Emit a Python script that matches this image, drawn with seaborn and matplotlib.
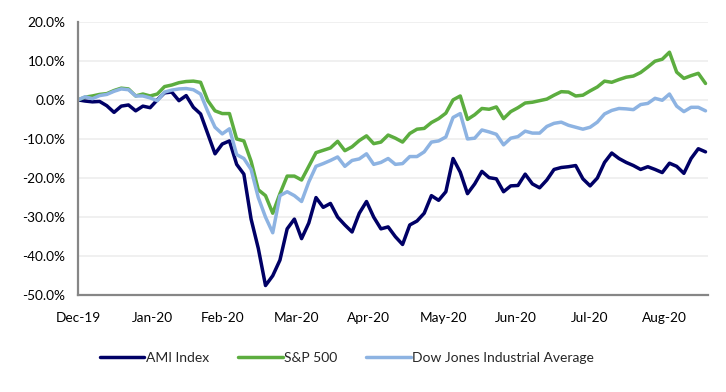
import matplotlib
matplotlib.use("Agg")
import matplotlib.pyplot as plt
import matplotlib.dates as mdates
from matplotlib.ticker import PercentFormatter
import numpy as np
import pandas as pd
import seaborn as sns

# Cumulative return since 31 Dec 2019 (%), every 3 days
dates = pd.date_range("2019-12-31", "2020-09-17", freq="3D")

ami = [0.0, -0.3, -0.5, -0.4, -1.5, -3.2, -1.6, -1.3, -2.8, -1.6,
       -2.0, 0.0, 1.8, 2.0, -0.2, 1.1, -1.9, -3.6, -8.7, -13.8,
       -11.3, -10.5, -16.5, -19.0, -30.5, -38.0, -47.5, -45.0, -41.0, -33.0,
       -30.5, -35.5, -31.5, -25.0, -27.5, -26.5, -30.0, -32.0, -33.8, -29.0,
       -26.0, -30.0, -33.0, -32.5, -35.0, -37.0, -32.0, -31.0, -29.0, -24.5,
       -25.7, -23.5, -15.0, -18.5, -24.0, -21.5, -18.3, -19.9, -20.2, -23.5,
       -22.0, -21.9, -19.0, -21.5, -22.5, -20.5, -17.8, -17.3, -17.1, -16.8,
       -20.2, -22.0, -20.0, -16.0, -13.6, -15.0, -16.0, -16.8, -17.8, -17.1,
       -17.8, -18.6, -16.2, -17.0, -18.8, -15.0, -12.5, -13.3]

sp500 = [0.0, 0.7, 1.0, 1.4, 1.6, 2.4, 3.0, 2.8, 1.0, 1.5,
         1.0, 1.5, 3.4, 3.8, 4.4, 4.7, 4.8, 4.5, -0.2, -2.8,
         -3.5, -3.5, -10.0, -10.5, -15.7, -23.0, -24.5, -29.0, -24.0, -19.5,
         -19.5, -20.5, -17.0, -13.5, -12.9, -12.3, -10.6, -13.0, -12.0, -10.4,
         -9.2, -11.2, -10.8, -9.0, -9.8, -10.8, -8.6, -7.5, -7.3, -5.8,
         -4.8, -3.4, 0.0, 1.0, -5.0, -3.8, -2.2, -2.4, -1.8, -4.8,
         -3.0, -2.0, -0.8, -0.6, -0.2, 0.2, 1.2, 2.1, 2.0, 1.0,
         1.2, 2.3, 3.3, 4.8, 4.5, 5.2, 5.8, 6.1, 7.0, 8.4,
         9.9, 10.4, 12.2, 7.1, 5.5, 6.2, 6.8, 4.2]

dow = [0.0, 0.8, 0.3, 1.1, 1.4, 2.2, 2.8, 2.6, 1.0, 1.0,
       0.5, -0.2, 2.0, 2.5, 2.8, 2.9, 2.6, 1.5, -3.0, -7.0,
       -8.7, -7.4, -14.0, -15.0, -17.8, -25.0, -30.0, -34.0, -24.5, -23.5,
       -24.5, -26.0, -21.0, -17.0, -16.3, -15.5, -14.6, -17.0, -15.5, -15.1,
       -13.8, -16.5, -16.0, -15.0, -16.5, -16.3, -14.5, -14.5, -13.3, -10.8,
       -10.5, -9.5, -4.5, -3.5, -10.0, -9.8, -7.7, -8.2, -8.8, -11.5,
       -9.8, -9.4, -8.0, -8.5, -8.5, -6.8, -6.0, -5.7, -6.5, -7.0,
       -7.5, -7.0, -5.7, -3.6, -2.7, -2.2, -2.3, -2.5, -1.2, -0.9,
       0.4, -0.1, 1.5, -1.6, -3.0, -1.9, -1.9, -2.8]

series_names = ["AMI Index", "S&P 500", "Dow Jones Industrial Average"]
colors = ["#000066", "#5CAD3F", "#8DB3E2"]
tick_dates = pd.to_datetime(["2019-12-31", "2020-01-31", "2020-02-29", "2020-03-31",
                             "2020-04-30", "2020-05-31", "2020-06-30", "2020-07-31",
                             "2020-08-31"])

df = pd.DataFrame({"Date": dates, series_names[0]: ami,
                   series_names[1]: sp500, series_names[2]: dow})
df_long = df.melt(id_vars="Date", var_name="Series", value_name="Return")

sns.set_style("white")
plt.rcParams["font.family"] = ["Lato", "DejaVu Sans"]
plt.rcParams["axes.unicode_minus"] = False

fig = plt.figure(figsize=(7.26, 3.92), dpi=100)
ax = fig.add_axes([0.1074, 0.2467, 0.8677, 0.6979])

sns.lineplot(data=df_long, x="Date", y="Return", hue="Series",
             hue_order=series_names, palette=colors, linewidth=2.5,
             ax=ax, legend=False)

ax.set_ylim(-50, 20)
ax.set_yticks(np.arange(-50, 21, 10))
ax.yaxis.set_major_formatter(PercentFormatter(xmax=100, decimals=1))
ax.set_xlim(pd.Timestamp("2019-12-31"), pd.Timestamp("2020-09-18"))
ax.set_xticks(tick_dates)
ax.xaxis.set_major_formatter(mdates.DateFormatter("%b-%y"))
ax.set_xlabel("")
ax.set_ylabel("")

# light horizontal gridlines (skip the bottom axis line)
for yv in range(-40, 21, 10):
    ax.axhline(yv, color="#EFEFEF", linewidth=1.3, zorder=0)

for side in ["top", "right"]:
    ax.spines[side].set_visible(False)
for side in ["left", "bottom"]:
    ax.spines[side].set_color("#868686")
    ax.spines[side].set_linewidth(1.6)
ax.tick_params(axis="both", direction="out", length=5, width=1.4,
               color="#868686", labelsize=9.8, labelcolor="black")
ax.tick_params(axis="x", pad=7)
ax.tick_params(axis="y", pad=4)

handles = [plt.Line2D([], [], color=c, linewidth=2.5) for c in colors]
fig.legend(handles, series_names, loc="center", bbox_to_anchor=(0.478, 0.087),
           ncol=3, frameon=False, fontsize=10, handlelength=3.2,
           handletextpad=0.1, columnspacing=2.1)

fig.savefig("out.png", dpi=100)
